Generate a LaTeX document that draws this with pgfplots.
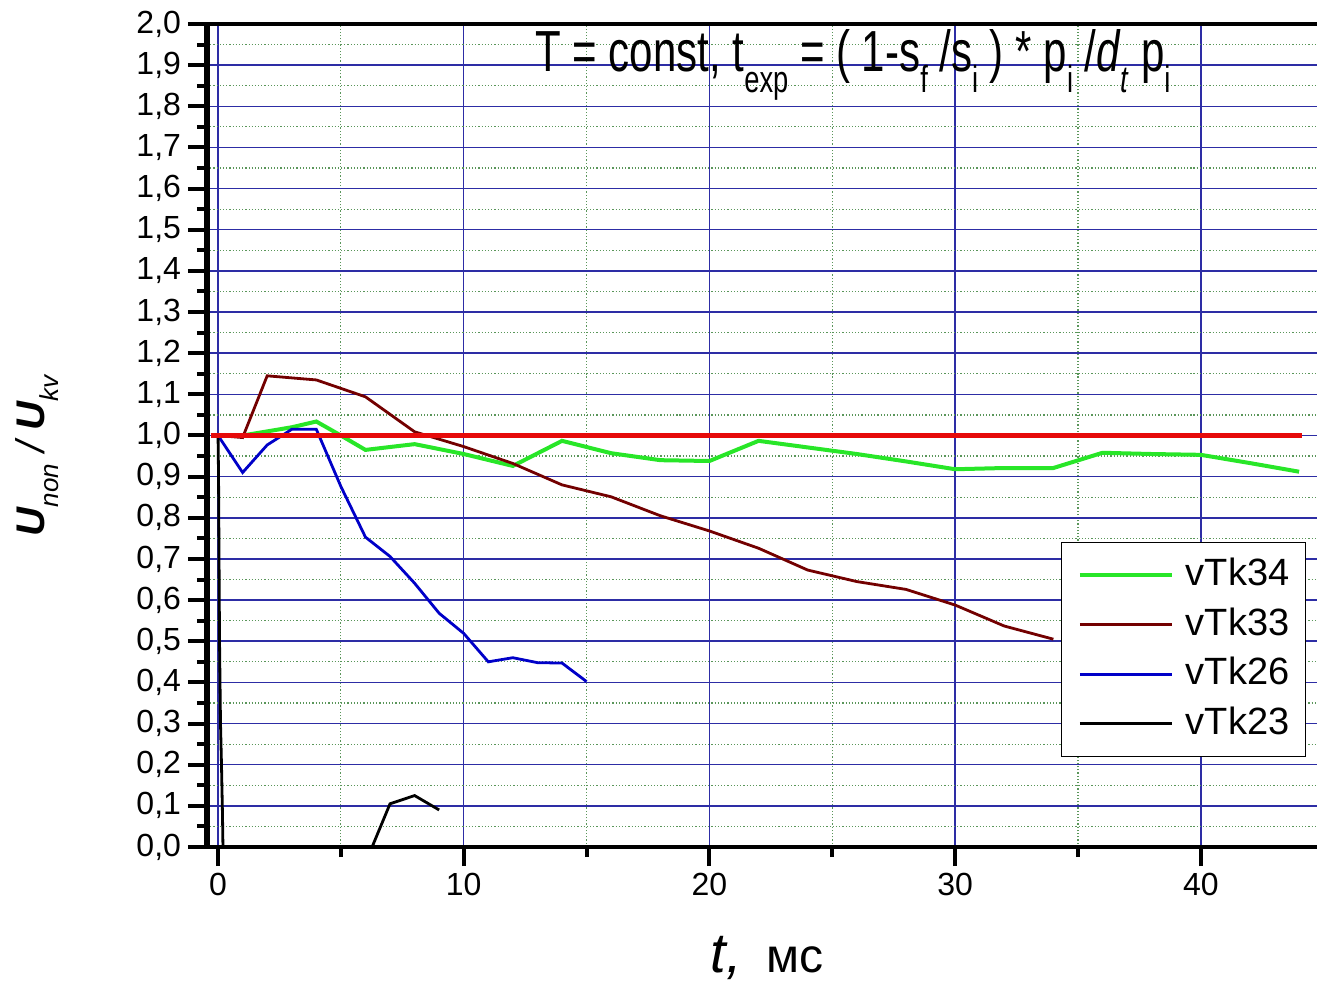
\documentclass[border=0pt]{standalone}
\usepackage{graphicx}
\usepackage{pgfplots}
\pgfplotsset{compat=1.18}
\usepackage{fontspec}
\setmainfont{Liberation Sans}
\definecolor{gridblue}{RGB}{45,45,165}
\definecolor{gridgreen}{RGB}{90,150,90}
\definecolor{cgreen}{RGB}{40,230,40}
\definecolor{cmaroon}{RGB}{115,0,0}
\definecolor{cblue}{RGB}{0,0,200}
\definecolor{cred}{RGB}{230,10,10}
\newcommand\lo[1]{\raisebox{-0.36em}{\scalebox{0.65}{#1}}}
\begin{document}
\begin{tikzpicture}
\useasboundingbox (-103.5bp,-67.5bp) rectangle (555bp,423.5bp);
\begin{axis}[
  at={(0,0)}, anchor=south west,
  scale only axis, width=555bp, height=411.5bp,
  xmin=-0.45, xmax=44.73, ymin=0, ymax=2.0,
  axis x line*=bottom, axis y line*=left,
  x axis line style={line width=2.2bp, black},
  y axis line style={line width=3bp, black},
  xtick={0,10,20,30,40}, minor xtick={5,15,25,35},
  ytick={0,0.1,...,2.01}, minor ytick={0.05,0.15,...,1.96},
  tick align=outside,
  major tick length=9.5bp, minor tick length=5bp,
  every tick/.style={black, line width=2bp},
  grid=both,
  major grid style={gridblue, line width=0.75bp},
  minor grid style={gridgreen, line width=0.6bp, densely dotted},
  /pgf/number format/assume math mode=true,
  tick label style={font=\fontsize{16bp}{16bp}\selectfont},
  yticklabel style={/pgf/number format/.cd, use comma, fixed, fixed zerofill, precision=1},
  xticklabel style={/pgf/number format/.cd, fixed, precision=0},
  xlabel={{\fontsize{28bp}{28bp}\selectfont\itshape t,}\hspace{12bp}{\fontsize{24bp}{24bp}\selectfont мс}},
  xlabel style={at={(axis description cs:0.5045,-0.152)}, anchor=base, inner sep=0pt},
  ylabel={\fontsize{20bp}{20bp}\selectfont\itshape{\bfseries U}\lo{non} / {\bfseries U}\lo{kv}},
  ylabel style={at={(axis description cs:-0.153,0.475)}, anchor=center, rotate=0, inner sep=0pt},
  unbounded coords=jump,
  legend style={at={(rel axis cs:0.990,0.3706)}, anchor=north east, draw=black, line width=0.6bp, fill=white,
    font=\fontsize{19bp}{19bp}\selectfont, inner xsep=8bp, inner ysep=7.6bp, row sep=7.25bp,
    nodes={inner sep=0pt, text height=14bp, text depth=3.5bp}},
  legend cell align=left,
  legend image code/.code={\draw[#1] (0bp,0bp) -- (46bp,0bp); \path (52bp,0bp);},
  after end axis/.code={\draw[line width=2.2bp, black] (rel axis cs:0,1) -- (rel axis cs:1,1);},
]
\addplot[cgreen, line width=2bp] coordinates {
(0,1.0) (1,1.0) (2,1.01) (3,1.02) (4,1.034) (5,1.0) (6,0.965) (8,0.979) (10,0.955)
(12,0.926) (14,0.987) (16,0.957) (18,0.94) (20,0.938) (22,0.987) (24,0.971) (26,0.955)
(28,0.937) (30,0.918) (32,0.921) (34,0.921) (36,0.958) (38,0.955) (40,0.953) (42,0.933) (44,0.912)};
\addlegendentry{vTk34}
\addplot[cmaroon, line width=1.4bp] coordinates {
(0,1.0) (1,0.995) (2,1.145) (4,1.135) (6,1.094) (8,1.009) (10,0.973) (12,0.932) (14,0.880)
(16,0.851) (18,0.805) (20,0.768) (22,0.726) (24,0.673) (26,0.645) (28,0.626) (30,0.588)
(32,0.537) (34,0.505)};
\addlegendentry{vTk33}
\addplot[cblue, line width=1.4bp] coordinates {
(0,1.0) (1,0.91) (2,0.977) (3,1.015) (4,1.015) (5,0.876) (6,0.753) (7,0.706) (8,0.641)
(9,0.568) (10,0.519) (11,0.450) (12,0.460) (13,0.448) (14,0.447) (15,0.402)};
\addlegendentry{vTk26}
\addplot[black, line width=1.4bp] coordinates {
(0,1.0) (0.02,0.9) (0.06,0.5) (0.1,0.3) (0.14,0.2) (0.18,0.08) (0.2,0.0)
(3,nan)
(6.27,0.0) (7,0.105) (8,0.125) (9,0.09)};
\addlegendentry{vTk23}
\addplot[cred, line width=2.3bp, forget plot] coordinates {(-0.3,1.0) (44.1,1.0)};
\node[anchor=base west, inner sep=0pt] at (rel axis cs:0.2955,0.9417)
  {\resizebox{317.5bp}{21bp}{T = const, t\lo{exp} = ( 1-s\lo{f} /s\lo{i} ) * p\lo{i} /\textit{d}\lo{\textit{t}} p\lo{i}}};
\end{axis}
\end{tikzpicture}
\end{document}
